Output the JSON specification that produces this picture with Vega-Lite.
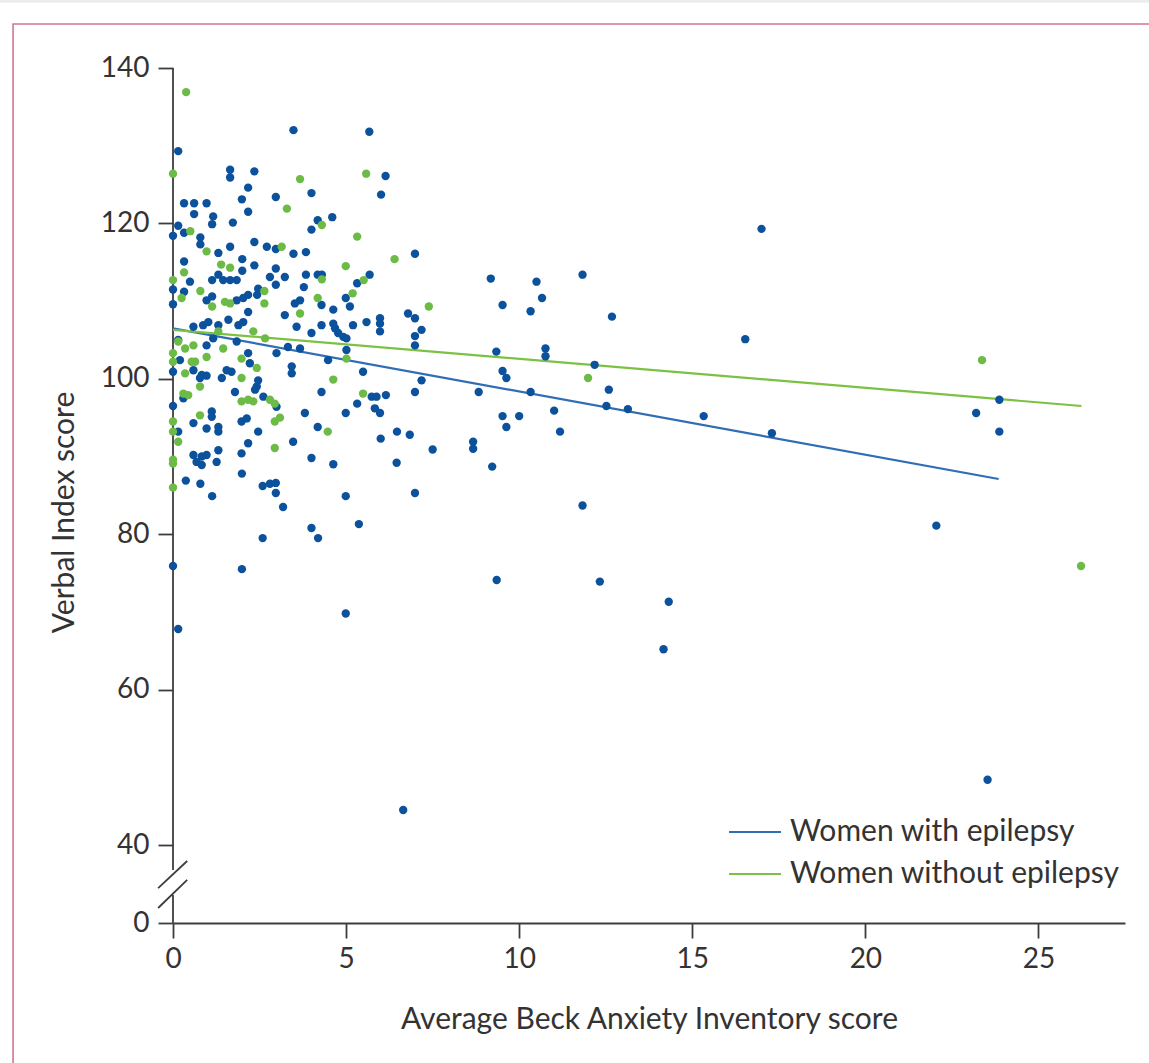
{
  "$schema": "https://vega.github.io/schema/vega-lite/v6.json",
  "autosize": {"type": "none"},
  "width": 952,
  "height": 855,
  "padding": {"left": 173, "top": 68, "right": 24, "bottom": 140},
  "background": "white",
  "config": {
    "font": "Lato",
    "view": {"stroke": null},
    "axis": {"grid": false, "labelFont": "Lato", "titleFont": "Lato"}
  },
  "datasets": {
    "fits": [
      {"group": "Women with epilepsy", "anxiety": 0, "verbal": 106.5},
      {"group": "Women with epilepsy", "anxiety": 23.85, "verbal": 87.1},
      {"group": "Women without epilepsy", "anxiety": 0, "verbal": 106.3},
      {"group": "Women without epilepsy", "anxiety": 26.24, "verbal": 96.5}
    ],
    "points": [
      {"group": "Women with epilepsy", "anxiety": 0.15, "verbal": 129.3},
      {"group": "Women with epilepsy", "anxiety": 1.65, "verbal": 126.9},
      {"group": "Women with epilepsy", "anxiety": 1.65, "verbal": 125.9},
      {"group": "Women with epilepsy", "anxiety": 2.35, "verbal": 126.7},
      {"group": "Women with epilepsy", "anxiety": 2.17, "verbal": 124.6},
      {"group": "Women with epilepsy", "anxiety": 1.99, "verbal": 123.1},
      {"group": "Women with epilepsy", "anxiety": 2.97, "verbal": 123.4},
      {"group": "Women with epilepsy", "anxiety": 0.32, "verbal": 122.6},
      {"group": "Women with epilepsy", "anxiety": 0.61, "verbal": 122.6},
      {"group": "Women with epilepsy", "anxiety": 0.97, "verbal": 122.6},
      {"group": "Women with epilepsy", "anxiety": 0.61, "verbal": 121.2},
      {"group": "Women with epilepsy", "anxiety": 1.16, "verbal": 120.9},
      {"group": "Women with epilepsy", "anxiety": 1.13, "verbal": 119.9},
      {"group": "Women with epilepsy", "anxiety": 1.73, "verbal": 120.1},
      {"group": "Women with epilepsy", "anxiety": 2.17, "verbal": 121.5},
      {"group": "Women with epilepsy", "anxiety": 0.15, "verbal": 119.7},
      {"group": "Women with epilepsy", "anxiety": 0, "verbal": 118.4},
      {"group": "Women with epilepsy", "anxiety": 0.32, "verbal": 118.8},
      {"group": "Women with epilepsy", "anxiety": 0.79, "verbal": 118.2},
      {"group": "Women with epilepsy", "anxiety": 0.79, "verbal": 117.3},
      {"group": "Women with epilepsy", "anxiety": 1.31, "verbal": 116.2},
      {"group": "Women with epilepsy", "anxiety": 1.65, "verbal": 117.0},
      {"group": "Women with epilepsy", "anxiety": 2.35, "verbal": 117.6},
      {"group": "Women with epilepsy", "anxiety": 2.71, "verbal": 117.0},
      {"group": "Women with epilepsy", "anxiety": 2.97, "verbal": 116.7},
      {"group": "Women with epilepsy", "anxiety": 0.32, "verbal": 115.1},
      {"group": "Women with epilepsy", "anxiety": 2.0, "verbal": 115.4},
      {"group": "Women with epilepsy", "anxiety": 2.35, "verbal": 114.6},
      {"group": "Women with epilepsy", "anxiety": 2.0, "verbal": 113.9},
      {"group": "Women with epilepsy", "anxiety": 2.97, "verbal": 114.2},
      {"group": "Women with epilepsy", "anxiety": 1.31, "verbal": 113.4},
      {"group": "Women with epilepsy", "anxiety": 1.13, "verbal": 112.7},
      {"group": "Women with epilepsy", "anxiety": 1.45, "verbal": 112.7},
      {"group": "Women with epilepsy", "anxiety": 1.65, "verbal": 112.7},
      {"group": "Women with epilepsy", "anxiety": 1.84, "verbal": 112.7},
      {"group": "Women with epilepsy", "anxiety": 2.8, "verbal": 113.1},
      {"group": "Women with epilepsy", "anxiety": 3.23, "verbal": 113.1},
      {"group": "Women with epilepsy", "anxiety": 2.97, "verbal": 112.1},
      {"group": "Women with epilepsy", "anxiety": 0.49, "verbal": 112.5},
      {"group": "Women with epilepsy", "anxiety": 0, "verbal": 111.5},
      {"group": "Women with epilepsy", "anxiety": 0.32, "verbal": 111.2},
      {"group": "Women with epilepsy", "anxiety": 2.46, "verbal": 111.6},
      {"group": "Women with epilepsy", "anxiety": 2.17, "verbal": 110.8},
      {"group": "Women with epilepsy", "anxiety": 3.48, "verbal": 132.0},
      {"group": "Women with epilepsy", "anxiety": 5.67, "verbal": 131.8},
      {"group": "Women with epilepsy", "anxiety": 6.14, "verbal": 126.1},
      {"group": "Women with epilepsy", "anxiety": 4.0, "verbal": 123.9},
      {"group": "Women with epilepsy", "anxiety": 6.01, "verbal": 123.7},
      {"group": "Women with epilepsy", "anxiety": 4.18, "verbal": 120.4},
      {"group": "Women with epilepsy", "anxiety": 4.0, "verbal": 119.2},
      {"group": "Women with epilepsy", "anxiety": 4.6, "verbal": 120.8},
      {"group": "Women with epilepsy", "anxiety": 3.48, "verbal": 116.1},
      {"group": "Women with epilepsy", "anxiety": 3.84, "verbal": 116.3},
      {"group": "Women with epilepsy", "anxiety": 6.99, "verbal": 116.1},
      {"group": "Women with epilepsy", "anxiety": 3.84, "verbal": 113.4},
      {"group": "Women with epilepsy", "anxiety": 4.18, "verbal": 113.4},
      {"group": "Women with epilepsy", "anxiety": 4.3, "verbal": 113.4},
      {"group": "Women with epilepsy", "anxiety": 5.68, "verbal": 113.4},
      {"group": "Women with epilepsy", "anxiety": 5.32, "verbal": 112.3},
      {"group": "Women with epilepsy", "anxiety": 3.78, "verbal": 111.8},
      {"group": "Women with epilepsy", "anxiety": 3.67, "verbal": 110.1},
      {"group": "Women with epilepsy", "anxiety": 4.99, "verbal": 110.4},
      {"group": "Women with epilepsy", "anxiety": 0, "verbal": 109.6},
      {"group": "Women with epilepsy", "anxiety": 0.97, "verbal": 110.1},
      {"group": "Women with epilepsy", "anxiety": 1.13, "verbal": 110.6},
      {"group": "Women with epilepsy", "anxiety": 1.84, "verbal": 110.1},
      {"group": "Women with epilepsy", "anxiety": 2.03, "verbal": 110.4},
      {"group": "Women with epilepsy", "anxiety": 2.17, "verbal": 108.6},
      {"group": "Women with epilepsy", "anxiety": 2.43, "verbal": 110.8},
      {"group": "Women with epilepsy", "anxiety": 3.23, "verbal": 108.2},
      {"group": "Women with epilepsy", "anxiety": 0.59, "verbal": 106.7},
      {"group": "Women with epilepsy", "anxiety": 0.87, "verbal": 106.9},
      {"group": "Women with epilepsy", "anxiety": 1.02, "verbal": 107.3},
      {"group": "Women with epilepsy", "anxiety": 1.31, "verbal": 106.9},
      {"group": "Women with epilepsy", "anxiety": 1.6, "verbal": 107.6},
      {"group": "Women with epilepsy", "anxiety": 1.89, "verbal": 106.9},
      {"group": "Women with epilepsy", "anxiety": 2.03, "verbal": 107.3},
      {"group": "Women with epilepsy", "anxiety": 1.16, "verbal": 105.2},
      {"group": "Women with epilepsy", "anxiety": 0.15, "verbal": 105.0},
      {"group": "Women with epilepsy", "anxiety": 0.97, "verbal": 104.3},
      {"group": "Women with epilepsy", "anxiety": 1.84, "verbal": 104.8},
      {"group": "Women with epilepsy", "anxiety": 2.99, "verbal": 103.3},
      {"group": "Women with epilepsy", "anxiety": 3.32, "verbal": 104.1},
      {"group": "Women with epilepsy", "anxiety": 0.2, "verbal": 102.4},
      {"group": "Women with epilepsy", "anxiety": 2.17, "verbal": 103.3},
      {"group": "Women with epilepsy", "anxiety": 2.22, "verbal": 102.0},
      {"group": "Women with epilepsy", "anxiety": 0, "verbal": 100.9},
      {"group": "Women with epilepsy", "anxiety": 0.59, "verbal": 101.1},
      {"group": "Women with epilepsy", "anxiety": 0.83, "verbal": 100.5},
      {"group": "Women with epilepsy", "anxiety": 0.97, "verbal": 100.4},
      {"group": "Women with epilepsy", "anxiety": 0.78, "verbal": 100.1},
      {"group": "Women with epilepsy", "anxiety": 1.41, "verbal": 100.1},
      {"group": "Women with epilepsy", "anxiety": 1.55, "verbal": 101.1},
      {"group": "Women with epilepsy", "anxiety": 1.69, "verbal": 100.9},
      {"group": "Women with epilepsy", "anxiety": 2.46, "verbal": 99.8},
      {"group": "Women with epilepsy", "anxiety": 2.42, "verbal": 99.0},
      {"group": "Women with epilepsy", "anxiety": 2.37, "verbal": 98.6},
      {"group": "Women with epilepsy", "anxiety": 1.79, "verbal": 98.3},
      {"group": "Women with epilepsy", "anxiety": 0.3, "verbal": 97.5},
      {"group": "Women with epilepsy", "anxiety": 2.61, "verbal": 97.7},
      {"group": "Women with epilepsy", "anxiety": 2.99, "verbal": 96.4},
      {"group": "Women with epilepsy", "anxiety": 0, "verbal": 96.5},
      {"group": "Women with epilepsy", "anxiety": 1.12, "verbal": 95.8},
      {"group": "Women with epilepsy", "anxiety": 1.12, "verbal": 95.1},
      {"group": "Women with epilepsy", "anxiety": 0.59, "verbal": 94.3},
      {"group": "Women with epilepsy", "anxiety": 0.97, "verbal": 93.6},
      {"group": "Women with epilepsy", "anxiety": 1.31, "verbal": 93.8},
      {"group": "Women with epilepsy", "anxiety": 1.31, "verbal": 93.2},
      {"group": "Women with epilepsy", "anxiety": 1.98, "verbal": 94.5},
      {"group": "Women with epilepsy", "anxiety": 2.13, "verbal": 94.9},
      {"group": "Women with epilepsy", "anxiety": 0.15, "verbal": 93.2},
      {"group": "Women with epilepsy", "anxiety": 2.46, "verbal": 93.2},
      {"group": "Women with epilepsy", "anxiety": 2.17, "verbal": 91.7},
      {"group": "Women with epilepsy", "anxiety": 1.98, "verbal": 90.4},
      {"group": "Women with epilepsy", "anxiety": 0.59, "verbal": 90.2},
      {"group": "Women with epilepsy", "anxiety": 0.83, "verbal": 90.0},
      {"group": "Women with epilepsy", "anxiety": 0.97, "verbal": 90.2},
      {"group": "Women with epilepsy", "anxiety": 1.31, "verbal": 90.8},
      {"group": "Women with epilepsy", "anxiety": 1.26, "verbal": 89.3},
      {"group": "Women with epilepsy", "anxiety": 0.83, "verbal": 88.9},
      {"group": "Women with epilepsy", "anxiety": 3.52, "verbal": 109.7},
      {"group": "Women with epilepsy", "anxiety": 3.57, "verbal": 106.7},
      {"group": "Women with epilepsy", "anxiety": 4.0, "verbal": 105.9},
      {"group": "Women with epilepsy", "anxiety": 4.29, "verbal": 109.5},
      {"group": "Women with epilepsy", "anxiety": 4.63, "verbal": 108.9},
      {"group": "Women with epilepsy", "anxiety": 5.11, "verbal": 109.3},
      {"group": "Women with epilepsy", "anxiety": 4.29, "verbal": 106.9},
      {"group": "Women with epilepsy", "anxiety": 4.63, "verbal": 107.1},
      {"group": "Women with epilepsy", "anxiety": 4.68, "verbal": 106.5},
      {"group": "Women with epilepsy", "anxiety": 4.77, "verbal": 105.9},
      {"group": "Women with epilepsy", "anxiety": 4.92, "verbal": 105.4},
      {"group": "Women with epilepsy", "anxiety": 5.01, "verbal": 105.2},
      {"group": "Women with epilepsy", "anxiety": 5.2, "verbal": 106.9},
      {"group": "Women with epilepsy", "anxiety": 5.59, "verbal": 107.3},
      {"group": "Women with epilepsy", "anxiety": 5.98, "verbal": 107.8},
      {"group": "Women with epilepsy", "anxiety": 5.98, "verbal": 107.1},
      {"group": "Women with epilepsy", "anxiety": 5.98, "verbal": 106.1},
      {"group": "Women with epilepsy", "anxiety": 6.79, "verbal": 108.4},
      {"group": "Women with epilepsy", "anxiety": 6.99, "verbal": 107.8},
      {"group": "Women with epilepsy", "anxiety": 7.18, "verbal": 106.3},
      {"group": "Women with epilepsy", "anxiety": 6.99, "verbal": 105.5},
      {"group": "Women with epilepsy", "anxiety": 6.99, "verbal": 104.3},
      {"group": "Women with epilepsy", "anxiety": 3.67, "verbal": 103.9},
      {"group": "Women with epilepsy", "anxiety": 5.01, "verbal": 103.7},
      {"group": "Women with epilepsy", "anxiety": 4.48, "verbal": 102.4},
      {"group": "Women with epilepsy", "anxiety": 3.43, "verbal": 101.6},
      {"group": "Women with epilepsy", "anxiety": 3.43, "verbal": 100.7},
      {"group": "Women with epilepsy", "anxiety": 5.49, "verbal": 100.9},
      {"group": "Women with epilepsy", "anxiety": 7.18, "verbal": 99.8},
      {"group": "Women with epilepsy", "anxiety": 4.29, "verbal": 98.3},
      {"group": "Women with epilepsy", "anxiety": 5.74, "verbal": 97.7},
      {"group": "Women with epilepsy", "anxiety": 5.88, "verbal": 97.7},
      {"group": "Women with epilepsy", "anxiety": 6.15, "verbal": 97.9},
      {"group": "Women with epilepsy", "anxiety": 5.32, "verbal": 96.8},
      {"group": "Women with epilepsy", "anxiety": 5.83, "verbal": 96.2},
      {"group": "Women with epilepsy", "anxiety": 5.98, "verbal": 95.6},
      {"group": "Women with epilepsy", "anxiety": 6.99, "verbal": 98.3},
      {"group": "Women with epilepsy", "anxiety": 3.81, "verbal": 95.6},
      {"group": "Women with epilepsy", "anxiety": 4.99, "verbal": 95.6},
      {"group": "Women with epilepsy", "anxiety": 4.18, "verbal": 93.8},
      {"group": "Women with epilepsy", "anxiety": 3.47, "verbal": 91.9},
      {"group": "Women with epilepsy", "anxiety": 6.0, "verbal": 92.3},
      {"group": "Women with epilepsy", "anxiety": 6.47, "verbal": 93.2},
      {"group": "Women with epilepsy", "anxiety": 6.84, "verbal": 92.8},
      {"group": "Women with epilepsy", "anxiety": 4.0, "verbal": 89.8},
      {"group": "Women with epilepsy", "anxiety": 4.63, "verbal": 89.0},
      {"group": "Women with epilepsy", "anxiety": 6.46, "verbal": 89.2},
      {"group": "Women with epilepsy", "anxiety": 0.68, "verbal": 89.3},
      {"group": "Women with epilepsy", "anxiety": 0.37, "verbal": 86.9},
      {"group": "Women with epilepsy", "anxiety": 0.79, "verbal": 86.5},
      {"group": "Women with epilepsy", "anxiety": 1.13, "verbal": 84.9},
      {"group": "Women with epilepsy", "anxiety": 1.99, "verbal": 87.8},
      {"group": "Women with epilepsy", "anxiety": 2.59, "verbal": 86.2},
      {"group": "Women with epilepsy", "anxiety": 2.8, "verbal": 86.5},
      {"group": "Women with epilepsy", "anxiety": 2.97, "verbal": 86.6},
      {"group": "Women with epilepsy", "anxiety": 2.97, "verbal": 85.3},
      {"group": "Women with epilepsy", "anxiety": 3.18, "verbal": 83.5},
      {"group": "Women with epilepsy", "anxiety": 4.99, "verbal": 84.9},
      {"group": "Women with epilepsy", "anxiety": 6.99, "verbal": 85.3},
      {"group": "Women with epilepsy", "anxiety": 4.0, "verbal": 80.8},
      {"group": "Women with epilepsy", "anxiety": 4.19, "verbal": 79.5},
      {"group": "Women with epilepsy", "anxiety": 5.37, "verbal": 81.3},
      {"group": "Women with epilepsy", "anxiety": 2.59, "verbal": 79.5},
      {"group": "Women with epilepsy", "anxiety": 0, "verbal": 75.9},
      {"group": "Women with epilepsy", "anxiety": 1.99, "verbal": 75.5},
      {"group": "Women with epilepsy", "anxiety": 4.99, "verbal": 69.8},
      {"group": "Women with epilepsy", "anxiety": 0.15, "verbal": 67.8},
      {"group": "Women with epilepsy", "anxiety": 6.65, "verbal": 44.5},
      {"group": "Women with epilepsy", "anxiety": 7.5, "verbal": 90.9},
      {"group": "Women with epilepsy", "anxiety": 9.18, "verbal": 112.9},
      {"group": "Women with epilepsy", "anxiety": 10.5, "verbal": 112.5},
      {"group": "Women with epilepsy", "anxiety": 10.66, "verbal": 110.4},
      {"group": "Women with epilepsy", "anxiety": 11.83, "verbal": 113.4},
      {"group": "Women with epilepsy", "anxiety": 9.52, "verbal": 109.5},
      {"group": "Women with epilepsy", "anxiety": 10.33, "verbal": 108.7},
      {"group": "Women with epilepsy", "anxiety": 12.68, "verbal": 108.0},
      {"group": "Women with epilepsy", "anxiety": 9.34, "verbal": 103.5},
      {"group": "Women with epilepsy", "anxiety": 10.76, "verbal": 103.9},
      {"group": "Women with epilepsy", "anxiety": 10.76, "verbal": 102.9},
      {"group": "Women with epilepsy", "anxiety": 12.18, "verbal": 101.8},
      {"group": "Women with epilepsy", "anxiety": 12.59, "verbal": 98.6},
      {"group": "Women with epilepsy", "anxiety": 12.52, "verbal": 96.5},
      {"group": "Women with epilepsy", "anxiety": 13.14, "verbal": 96.1},
      {"group": "Women with epilepsy", "anxiety": 9.52, "verbal": 101.0},
      {"group": "Women with epilepsy", "anxiety": 9.63, "verbal": 100.1},
      {"group": "Women with epilepsy", "anxiety": 8.83, "verbal": 98.3},
      {"group": "Women with epilepsy", "anxiety": 10.33, "verbal": 98.3},
      {"group": "Women with epilepsy", "anxiety": 11.01, "verbal": 95.9},
      {"group": "Women with epilepsy", "anxiety": 9.52, "verbal": 95.2},
      {"group": "Women with epilepsy", "anxiety": 9.63, "verbal": 93.8},
      {"group": "Women with epilepsy", "anxiety": 10.0, "verbal": 95.2},
      {"group": "Women with epilepsy", "anxiety": 11.18, "verbal": 93.2},
      {"group": "Women with epilepsy", "anxiety": 8.67, "verbal": 91.9},
      {"group": "Women with epilepsy", "anxiety": 8.67, "verbal": 91.0},
      {"group": "Women with epilepsy", "anxiety": 9.22, "verbal": 88.7},
      {"group": "Women with epilepsy", "anxiety": 11.83, "verbal": 83.7},
      {"group": "Women with epilepsy", "anxiety": 9.35, "verbal": 74.1},
      {"group": "Women with epilepsy", "anxiety": 12.33, "verbal": 73.9},
      {"group": "Women with epilepsy", "anxiety": 14.17, "verbal": 65.2},
      {"group": "Women with epilepsy", "anxiety": 14.32, "verbal": 71.3},
      {"group": "Women with epilepsy", "anxiety": 16.53, "verbal": 105.1},
      {"group": "Women with epilepsy", "anxiety": 15.33, "verbal": 95.2},
      {"group": "Women with epilepsy", "anxiety": 17.3, "verbal": 93.0},
      {"group": "Women with epilepsy", "anxiety": 17.0, "verbal": 119.3},
      {"group": "Women with epilepsy", "anxiety": 23.87, "verbal": 97.3},
      {"group": "Women with epilepsy", "anxiety": 23.2, "verbal": 95.6},
      {"group": "Women with epilepsy", "anxiety": 23.87, "verbal": 93.2},
      {"group": "Women with epilepsy", "anxiety": 22.05, "verbal": 81.1},
      {"group": "Women with epilepsy", "anxiety": 23.53, "verbal": 48.4},
      {"group": "Women without epilepsy", "anxiety": 0.38, "verbal": 136.9},
      {"group": "Women without epilepsy", "anxiety": 0, "verbal": 126.4},
      {"group": "Women without epilepsy", "anxiety": 3.29, "verbal": 121.9},
      {"group": "Women without epilepsy", "anxiety": 0.5, "verbal": 119.0},
      {"group": "Women without epilepsy", "anxiety": 0.97, "verbal": 116.4},
      {"group": "Women without epilepsy", "anxiety": 3.14, "verbal": 117.0},
      {"group": "Women without epilepsy", "anxiety": 0.32, "verbal": 113.7},
      {"group": "Women without epilepsy", "anxiety": 1.39, "verbal": 114.7},
      {"group": "Women without epilepsy", "anxiety": 1.65, "verbal": 114.3},
      {"group": "Women without epilepsy", "anxiety": 0, "verbal": 112.7},
      {"group": "Women without epilepsy", "anxiety": 0.79, "verbal": 111.3},
      {"group": "Women without epilepsy", "anxiety": 2.64, "verbal": 111.3},
      {"group": "Women without epilepsy", "anxiety": 0.25, "verbal": 110.4},
      {"group": "Women without epilepsy", "anxiety": 3.67, "verbal": 125.7},
      {"group": "Women without epilepsy", "anxiety": 5.58, "verbal": 126.4},
      {"group": "Women without epilepsy", "anxiety": 4.3, "verbal": 119.8},
      {"group": "Women without epilepsy", "anxiety": 5.32, "verbal": 118.3},
      {"group": "Women without epilepsy", "anxiety": 6.4, "verbal": 115.4},
      {"group": "Women without epilepsy", "anxiety": 4.99, "verbal": 114.5},
      {"group": "Women without epilepsy", "anxiety": 4.3, "verbal": 112.8},
      {"group": "Women without epilepsy", "anxiety": 5.51, "verbal": 112.7},
      {"group": "Women without epilepsy", "anxiety": 5.19, "verbal": 111.0},
      {"group": "Women without epilepsy", "anxiety": 4.18, "verbal": 110.4},
      {"group": "Women without epilepsy", "anxiety": 1.13, "verbal": 109.3},
      {"group": "Women without epilepsy", "anxiety": 1.5, "verbal": 109.9},
      {"group": "Women without epilepsy", "anxiety": 1.65, "verbal": 109.7},
      {"group": "Women without epilepsy", "anxiety": 2.64, "verbal": 109.7},
      {"group": "Women without epilepsy", "anxiety": 1.31, "verbal": 106.1},
      {"group": "Women without epilepsy", "anxiety": 2.32, "verbal": 106.1},
      {"group": "Women without epilepsy", "anxiety": 2.66, "verbal": 105.2},
      {"group": "Women without epilepsy", "anxiety": 0.15, "verbal": 104.8},
      {"group": "Women without epilepsy", "anxiety": 0.59, "verbal": 104.3},
      {"group": "Women without epilepsy", "anxiety": 0.35, "verbal": 103.9},
      {"group": "Women without epilepsy", "anxiety": 1.45, "verbal": 103.9},
      {"group": "Women without epilepsy", "anxiety": 0, "verbal": 103.3},
      {"group": "Women without epilepsy", "anxiety": 0.54, "verbal": 102.2},
      {"group": "Women without epilepsy", "anxiety": 0.64, "verbal": 102.2},
      {"group": "Women without epilepsy", "anxiety": 0.97, "verbal": 102.8},
      {"group": "Women without epilepsy", "anxiety": 1.98, "verbal": 102.6},
      {"group": "Women without epilepsy", "anxiety": 2.42, "verbal": 101.4},
      {"group": "Women without epilepsy", "anxiety": 0, "verbal": 102.2},
      {"group": "Women without epilepsy", "anxiety": 0.35, "verbal": 100.7},
      {"group": "Women without epilepsy", "anxiety": 1.98, "verbal": 100.1},
      {"group": "Women without epilepsy", "anxiety": 0.78, "verbal": 99.0},
      {"group": "Women without epilepsy", "anxiety": 0.3, "verbal": 98.1},
      {"group": "Women without epilepsy", "anxiety": 0.44, "verbal": 97.9},
      {"group": "Women without epilepsy", "anxiety": 1.98, "verbal": 97.1},
      {"group": "Women without epilepsy", "anxiety": 2.17, "verbal": 97.3},
      {"group": "Women without epilepsy", "anxiety": 2.32, "verbal": 97.1},
      {"group": "Women without epilepsy", "anxiety": 2.8, "verbal": 97.3},
      {"group": "Women without epilepsy", "anxiety": 2.94, "verbal": 96.8},
      {"group": "Women without epilepsy", "anxiety": 0.78, "verbal": 95.3},
      {"group": "Women without epilepsy", "anxiety": 0, "verbal": 94.5},
      {"group": "Women without epilepsy", "anxiety": 2.94, "verbal": 94.5},
      {"group": "Women without epilepsy", "anxiety": 3.09, "verbal": 95.0},
      {"group": "Women without epilepsy", "anxiety": 0.15, "verbal": 91.9},
      {"group": "Women without epilepsy", "anxiety": 2.94, "verbal": 91.1},
      {"group": "Women without epilepsy", "anxiety": 0, "verbal": 89.6},
      {"group": "Women without epilepsy", "anxiety": 0, "verbal": 89.1},
      {"group": "Women without epilepsy", "anxiety": 3.67, "verbal": 108.4},
      {"group": "Women without epilepsy", "anxiety": 5.01, "verbal": 102.6},
      {"group": "Women without epilepsy", "anxiety": 4.63, "verbal": 99.9},
      {"group": "Women without epilepsy", "anxiety": 5.49, "verbal": 98.1},
      {"group": "Women without epilepsy", "anxiety": 4.47, "verbal": 93.2},
      {"group": "Women without epilepsy", "anxiety": 7.39, "verbal": 109.3},
      {"group": "Women without epilepsy", "anxiety": 11.99, "verbal": 100.1},
      {"group": "Women without epilepsy", "anxiety": 0, "verbal": 86.0},
      {"group": "Women without epilepsy", "anxiety": 23.37, "verbal": 102.4},
      {"group": "Women without epilepsy", "anxiety": 26.23, "verbal": 75.9},
      {"group": "Women without epilepsy", "anxiety": 0, "verbal": 93.2}
    ]
  },
  "layer": [
    {
      "description": "Grey strip along the top edge of the page",
      "data": {"values": [{}]},
      "mark": {"type": "rect", "fill": "#ececec", "stroke": null},
      "encoding": {
        "x": {"datum": -5.2, "type": "quantitative"},
        "x2": {"datum": 28.8},
        "y": {"datum": 148.8, "type": "quantitative"},
        "y2": {"datum": 148.4}
      }
    },
    {
      "description": "Figure frame",
      "data": {"values": [{}]},
      "mark": {"type": "rect", "fill": "transparent", "stroke": "#d9738f", "strokeWidth": 1.6},
      "encoding": {
        "x": {"datum": -4.62, "type": "quantitative"},
        "x2": {"datum": 28.8},
        "y": {"datum": 145.66, "type": "quantitative"},
        "y2": {"datum": -85}
      }
    },
    {
      "description": "Upper part of the broken y axis line",
      "data": {"values": [{}]},
      "mark": {"type": "rule", "color": "#3d3d3d", "strokeWidth": 1.8},
      "encoding": {
        "x": {"datum": 0, "type": "quantitative"},
        "y": {"datum": 27.2, "type": "quantitative"},
        "y2": {"datum": 140}
      }
    },
    {
      "description": "Lower part of the broken y axis line",
      "data": {"values": [{}]},
      "mark": {"type": "rule", "color": "#3d3d3d", "strokeWidth": 1.8},
      "encoding": {
        "x": {"datum": 0, "type": "quantitative"},
        "y": {"datum": 0, "type": "quantitative"},
        "y2": {"datum": 14.4}
      }
    },
    {
      "description": "Axis break mark, upper slash",
      "data": {"values": [{}]},
      "mark": {"type": "rule", "color": "#3d3d3d", "strokeWidth": 1.8},
      "encoding": {
        "x": {"datum": -0.43, "type": "quantitative"},
        "x2": {"datum": 0.41},
        "y": {"datum": 17.9, "type": "quantitative"},
        "y2": {"datum": 31.8}
      }
    },
    {
      "description": "Axis break mark, lower slash",
      "data": {"values": [{}]},
      "mark": {"type": "rule", "color": "#3d3d3d", "strokeWidth": 1.8},
      "encoding": {
        "x": {"datum": -0.43, "type": "quantitative"},
        "x2": {"datum": 0.41},
        "y": {"datum": 7.7, "type": "quantitative"},
        "y2": {"datum": 22.1}
      }
    },
    {
      "description": "Fitted lines",
      "data": {"name": "fits"},
      "mark": {"type": "line", "strokeWidth": 2.2},
      "encoding": {
        "x": {"field": "anxiety", "type": "quantitative"},
        "y": {"field": "verbal", "type": "quantitative"},
        "color": {
          "field": "group",
          "type": "nominal",
          "scale": {"domain": ["Women with epilepsy", "Women without epilepsy"], "range": ["#2f6db5", "#7cc144"]},
          "legend": {
            "orient": "none",
            "legendX": 555,
            "legendY": 737,
            "title": null,
            "padding": 0,
            "symbolType": "stroke",
            "symbolSize": 2704,
            "symbolStrokeWidth": 2,
            "labelFont": "Lato",
            "labelFontSize": 30,
            "labelColor": "#333333",
            "labelLimit": 0,
            "labelOffset": 8,
            "rowPadding": -18
          }
        }
      }
    },
    {
      "description": "Individual participants",
      "data": {"name": "points"},
      "mark": {"type": "circle", "size": 70, "opacity": 1},
      "encoding": {
        "x": {
          "field": "anxiety",
          "type": "quantitative",
          "scale": {"domain": [0, 27.5], "nice": false, "zero": false},
          "axis": {
            "values": [0, 5, 10, 15, 20, 25],
            "format": "d",
            "domain": true,
            "domainColor": "#3d3d3d",
            "domainWidth": 1.8,
            "ticks": true,
            "tickColor": "#3d3d3d",
            "tickWidth": 1.8,
            "tickSize": 15,
            "labelFontSize": 28,
            "labelColor": "#333333",
            "labelPadding": 7,
            "labelFlush": false,
            "title": "Average Beck Anxiety Inventory score",
            "titleFontSize": 30,
            "titleFontWeight": "normal",
            "titleColor": "#333333",
            "titleX": 476,
            "titleY": 105,
            "titleBaseline": "alphabetic",
            "titleAlign": "center"
          }
        },
        "y": {
          "field": "verbal",
          "type": "quantitative",
          "scale": {"domain": [0, 40, 140], "range": [855, 777, 0], "nice": false, "zero": false},
          "axis": {
            "values": [0, 40, 60, 80, 100, 120, 140],
            "format": "d",
            "domain": false,
            "ticks": true,
            "tickColor": "#3d3d3d",
            "tickWidth": 1.8,
            "tickSize": 15,
            "labelFontSize": 28,
            "labelColor": "#333333",
            "labelPadding": 9,
            "labelFlush": false,
            "labelOverlap": false,
            "title": "Verbal Index score",
            "titleFontSize": 30,
            "titleFontWeight": "normal",
            "titleColor": "#333333",
            "titleAngle": -90,
            "titleX": -100,
            "titleY": 444,
            "titleBaseline": "alphabetic",
            "titleAlign": "center"
          }
        },
        "color": {
          "field": "group",
          "type": "nominal",
          "scale": {"domain": ["Women with epilepsy", "Women without epilepsy"], "range": ["#0b519c", "#6cbb46"]},
          "legend": null
        }
      }
    }
  ],
  "resolve": {"scale": {"color": "independent"}}
}
